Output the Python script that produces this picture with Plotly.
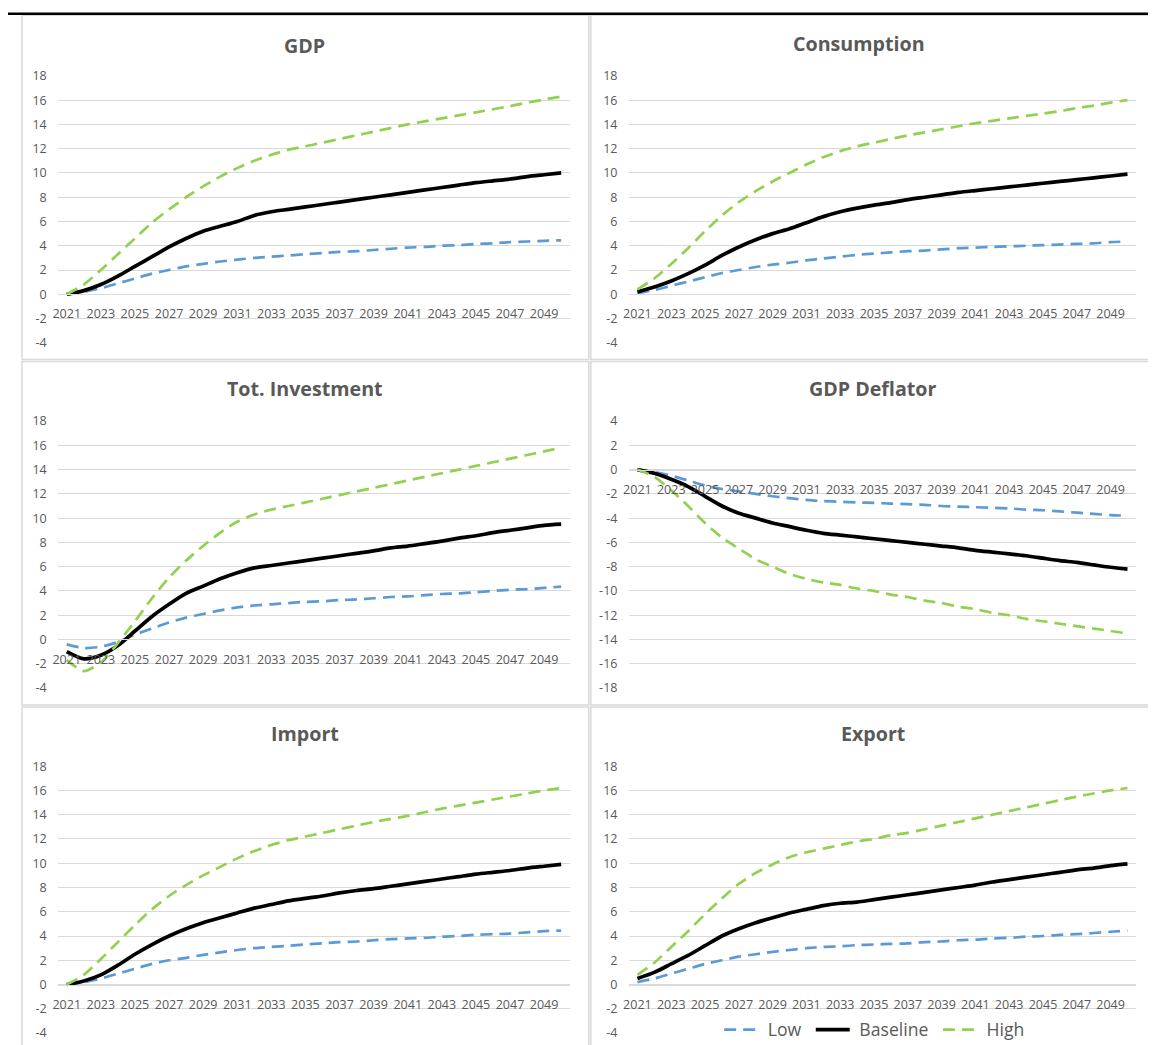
import plotly.graph_objects as go

years = list(range(2021, 2051))
xtick_vals = list(range(2021, 2050, 2))
xtick_text = [str(y) for y in xtick_vals]
ytick_vals_main = list(range(-4, 19, 2))
ytick_text_main = [str(v) for v in ytick_vals_main]
ytick_vals_defl = list(range(-18, 5, 2))
ytick_text_defl = [str(v) for v in ytick_vals_defl]

titles = ["GDP", "Consumption", "Tot. Investment", "GDP Deflator", "Import", "Export"]
series_names = ["Low", "Baseline", "High"]

gdp_low = [0, 0.2, 0.5, 0.9, 1.3, 1.7, 2.0, 2.3, 2.5, 2.7, 2.85, 3.0, 3.1, 3.2, 3.3, 3.4, 3.5, 3.55, 3.65, 3.75, 3.85, 3.9, 4.0, 4.05, 4.15, 4.2, 4.3, 4.35, 4.4, 4.45]
gdp_base = [0, 0.3, 0.8, 1.5, 2.3, 3.1, 3.9, 4.6, 5.2, 5.6, 6.0, 6.5, 6.8, 7.0, 7.2, 7.4, 7.6, 7.8, 8.0, 8.2, 8.4, 8.6, 8.8, 9.0, 9.2, 9.35, 9.5, 9.7, 9.85, 10.0]
gdp_high = [0, 0.8, 2.0, 3.3, 4.6, 5.9, 7.0, 8.0, 8.9, 9.7, 10.4, 11.0, 11.5, 11.9, 12.2, 12.5, 12.8, 13.1, 13.4, 13.7, 14.0, 14.25, 14.5, 14.75, 15.0, 15.25, 15.5, 15.8, 16.05, 16.3]

cons_low = [0.1, 0.35, 0.7, 1.05, 1.4, 1.75, 2.0, 2.25, 2.45, 2.6, 2.8, 2.95, 3.1, 3.25, 3.35, 3.45, 3.55, 3.6, 3.7, 3.8, 3.85, 3.9, 3.95, 4.0, 4.05, 4.1, 4.15, 4.2, 4.3, 4.35]
cons_base = [0.2, 0.6, 1.1, 1.7, 2.4, 3.2, 3.9, 4.5, 5.0, 5.4, 5.9, 6.4, 6.8, 7.1, 7.35, 7.55, 7.8, 8.0, 8.2, 8.4, 8.55, 8.7, 8.85, 9.0, 9.15, 9.3, 9.45, 9.6, 9.75, 9.9]
cons_high = [0.4, 1.3, 2.5, 3.8, 5.2, 6.5, 7.6, 8.5, 9.3, 10.0, 10.7, 11.3, 11.8, 12.2, 12.5, 12.8, 13.1, 13.35, 13.6, 13.85, 14.1, 14.3, 14.5, 14.7, 14.9, 15.1, 15.35, 15.55, 15.8, 16.0]

inv_low = [-0.4, -0.7, -0.6, -0.2, 0.4, 0.9, 1.4, 1.8, 2.1, 2.4, 2.65, 2.8, 2.9, 3.0, 3.1, 3.15, 3.25, 3.3, 3.4, 3.5, 3.55, 3.65, 3.75, 3.8, 3.9, 4.0, 4.1, 4.15, 4.25, 4.35]
inv_base = [-1.0, -1.6, -1.3, -0.5, 0.7, 1.9, 2.9, 3.8, 4.4, 5.0, 5.5, 5.9, 6.1, 6.3, 6.5, 6.7, 6.9, 7.1, 7.3, 7.55, 7.7, 7.9, 8.1, 8.35, 8.55, 8.8, 9.0, 9.2, 9.4, 9.5]
inv_high = [-1.7, -2.6, -1.9, -0.3, 1.5, 3.4, 5.1, 6.5, 7.7, 8.8, 9.7, 10.3, 10.7, 11.0, 11.3, 11.6, 11.9, 12.2, 12.5, 12.8, 13.1, 13.4, 13.7, 14.0, 14.3, 14.6, 14.9, 15.2, 15.5, 15.8]

defl_low = [0, -0.2, -0.5, -0.9, -1.3, -1.6, -1.8, -2.0, -2.2, -2.35, -2.5, -2.6, -2.65, -2.7, -2.75, -2.8, -2.85, -2.9, -3.0, -3.05, -3.1, -3.15, -3.2, -3.3, -3.35, -3.45, -3.55, -3.65, -3.75, -3.8]
defl_base = [0, -0.3, -0.8, -1.4, -2.2, -3.0, -3.6, -4.0, -4.4, -4.7, -5.0, -5.25, -5.4, -5.55, -5.7, -5.85, -6.0, -6.15, -6.3, -6.45, -6.65, -6.8, -6.95, -7.1, -7.3, -7.5, -7.65, -7.85, -8.05, -8.2]
defl_high = [0, -0.6, -1.7, -3.0, -4.4, -5.6, -6.5, -7.4, -8.0, -8.6, -9.0, -9.3, -9.5, -9.8, -10.0, -10.3, -10.5, -10.8, -11.0, -11.3, -11.5, -11.8, -12.0, -12.3, -12.5, -12.7, -12.9, -13.1, -13.3, -13.5]

imp_low = [0, 0.2, 0.5, 0.9, 1.3, 1.7, 2.0, 2.2, 2.45, 2.65, 2.85, 3.0, 3.1, 3.2, 3.3, 3.4, 3.5, 3.55, 3.65, 3.75, 3.8, 3.85, 3.95, 4.0, 4.1, 4.15, 4.2, 4.3, 4.4, 4.45]
imp_base = [0, 0.3, 0.8, 1.6, 2.5, 3.3, 4.0, 4.6, 5.1, 5.5, 5.9, 6.3, 6.6, 6.9, 7.1, 7.3, 7.55, 7.75, 7.9, 8.1, 8.3, 8.5, 8.7, 8.9, 9.1, 9.25, 9.4, 9.6, 9.75, 9.9]
imp_high = [0, 0.8, 2.1, 3.5, 4.9, 6.2, 7.3, 8.2, 9.0, 9.7, 10.4, 11.0, 11.5, 11.9, 12.2, 12.5, 12.8, 13.1, 13.4, 13.65, 13.9, 14.2, 14.5, 14.75, 15.0, 15.25, 15.5, 15.75, 16.0, 16.2]

exp_low = [0.2, 0.5, 0.9, 1.3, 1.7, 2.0, 2.3, 2.5, 2.7, 2.85, 3.0, 3.1, 3.15, 3.25, 3.3, 3.35, 3.4, 3.5, 3.55, 3.65, 3.7, 3.8, 3.85, 3.95, 4.0, 4.1, 4.15, 4.25, 4.35, 4.45]
exp_base = [0.5, 1.0, 1.7, 2.4, 3.2, 4.0, 4.6, 5.1, 5.5, 5.9, 6.2, 6.5, 6.7, 6.8, 7.0, 7.2, 7.4, 7.6, 7.8, 8.0, 8.2, 8.45, 8.65, 8.85, 9.05, 9.25, 9.45, 9.6, 9.8, 9.95]
exp_high = [0.8, 1.8, 3.1, 4.4, 5.8, 7.1, 8.3, 9.2, 9.9, 10.5, 10.9, 11.2, 11.5, 11.8, 12.0, 12.3, 12.5, 12.8, 13.1, 13.4, 13.7, 14.0, 14.3, 14.6, 14.9, 15.2, 15.5, 15.75, 16.0, 16.2]

panel_data = [
    (gdp_low, gdp_base, gdp_high),
    (cons_low, cons_base, cons_high),
    (inv_low, inv_base, inv_high),
    (defl_low, defl_base, defl_high),
    (imp_low, imp_base, imp_high),
    (exp_low, exp_base, exp_high),
]
y_ranges = [(-4, 18), (-4, 18), (-4, 18), (-18, 4), (-4, 18), (-4, 18)]
y_ticks = [(ytick_vals_main, ytick_text_main)] * 3 + [(ytick_vals_defl, ytick_text_defl)] + [(ytick_vals_main, ytick_text_main)] * 2

# calibration between figure pixels and the photographed page
AX, SX = 15.5, 0.99
AY, SY = 16.2, 0.982
W, H = 1156, 1050
FONT = "Open Sans"
GRAY = "#595959"
GRID = "#d9d9d9"
colors = ["#5B9BD5", "#000000", "#92D050"]
widths = [2.7, 3.7, 2.7]
dashes = ["12px,7px", "solid", "12px,7px"]

# layout geometry in target pixels
col_plot_x = [(59.5, 568.5), (627.5, 1132.0)]
row_plot_y = [(75.0, 341.4), (419.5, 686.0), (764.0, 1030.4)]
col_box_x = [(23.5, 587.5), (589.5, 1151.0)]
row_box_y = [(14.5, 358.0), (360.0, 703.0), (705.0, 1060.0)]
title_cx = [305, 856, 305, 870, 305, 870]
title_cy = [45, 43, 387, 387, 731, 731]

def px_x(t):
    return ((t - AX) / SX) / W

def px_y(t):
    return 1 - ((t - AY) / SY) / H

fs = 1 / SY
NB = "\u00a0"
fig = go.Figure()
layout = {}
shapes = []
annotations = []

for i in range(6):
    r, c = divmod(i, 2)
    ax = "" if i == 0 else str(i + 1)
    x0, x1 = col_plot_x[c]
    ytop, ybot = row_plot_y[r]
    ymin, ymax = y_ranges[i]
    dom_y = [px_y(ybot), px_y(ytop)]
    zero_pos = dom_y[0] + (0 - ymin) / (ymax - ymin) * (dom_y[1] - dom_y[0])
    layout["xaxis" + ax] = dict(
        domain=[px_x(x0), px_x(x1)], range=[2020.5, 2050.5], anchor="free",
        position=zero_pos, tickvals=xtick_vals, ticktext=xtick_text,
        showgrid=False, zeroline=False, showline=True, linecolor=GRID, linewidth=1,
        ticks="outside", ticklen=8, tickcolor="rgba(0,0,0,0)",
        tickfont=dict(family=FONT, size=12.3 * fs, color=GRAY), tickangle=0,
        fixedrange=True,
    )
    layout["yaxis" + ax] = dict(
        domain=dom_y, range=[ymin, ymax], anchor="x" + ax,
        tickvals=y_ticks[i][0], ticktext=y_ticks[i][1],
        showgrid=True, gridcolor=GRID, gridwidth=1, zeroline=False, showline=False,
        ticks="outside", ticklen=8, tickcolor="rgba(0,0,0,0)",
        tickfont=dict(family=FONT, size=12.3 * fs, color=GRAY), fixedrange=True,
    )
    for s in range(3):
        fig.add_trace(go.Scatter(
            x=years, y=panel_data[i][s], mode="lines", name=NB + series_names[s] + NB,
            line=dict(color=colors[s], width=widths[s], dash=dashes[s], shape="spline", smoothing=0.7),
            xaxis="x" + ax, yaxis="y" + ax, legendgroup=series_names[s],
            showlegend=(i == 5), hoverinfo="skip",
        ))
    bx0, bx1 = col_box_x[c]
    by0, by1 = row_box_y[r]
    shapes.append(dict(type="rect", xref="paper", yref="paper",
                       x0=px_x(bx0), x1=px_x(bx1), y0=px_y(by1), y1=px_y(by0),
                       line=dict(color=GRID, width=1.5), fillcolor="rgba(0,0,0,0)", layer="below"))
    annotations.append(dict(text="<b>" + titles[i] + "</b>", xref="paper", yref="paper",
                            x=px_x(title_cx[i]), y=px_y(title_cy[i]), xanchor="center", yanchor="middle",
                            showarrow=False, font=dict(family=FONT, size=19.3 * fs, color=GRAY)))

shapes.append(dict(type="line", xref="paper", yref="paper", x0=px_x(9), x1=px_x(1170),
                   y0=px_y(13), y1=px_y(13), line=dict(color="#000000", width=2.5)))

fig.update_layout(
    width=W, height=H, margin=dict(l=0, r=0, t=0, b=0),
    paper_bgcolor="white", plot_bgcolor="rgba(0,0,0,0)",
    shapes=shapes, annotations=annotations,
    legend=dict(orientation="h", x=px_x(874), y=px_y(1027), xanchor="center", yanchor="middle",
                bgcolor="rgba(0,0,0,0)", font=dict(family=FONT, size=17.3 * fs, color=GRAY),
                itemwidth=34, tracegroupgap=0),
    showlegend=True,
    **layout,
)

fig.write_html("out.html")
